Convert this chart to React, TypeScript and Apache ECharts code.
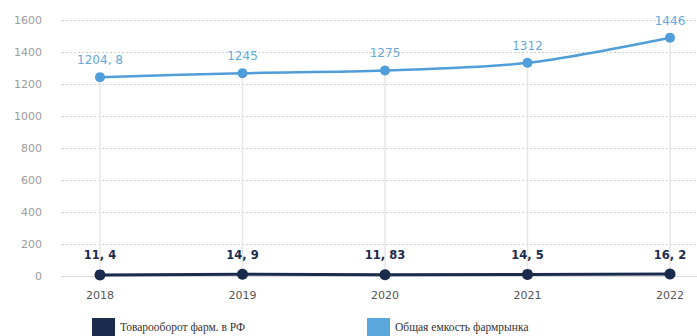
import React, { useEffect, useRef } from "react";
import * as echarts from "echarts";

const years = [2018, 2019, 2020, 2021, 2022];
// Positions of the "Общая емкость" points as drawn in the picture
const marketValues = [1247, 1272, 1289, 1337, 1494];
const marketLabels = ["1204, 8", "1245", "1275", "1312", "1446"];
// Товарооборот values
const turnoverValues = [11.4, 14.9, 11.83, 14.5, 16.2];
const turnoverLabels = ["11, 4", "14, 9", "11, 83", "14, 5", "16, 2"];
const seriesNames = ["Товарооборот фарм. в РФ", "Общая емкость фармрынка"];

const NAVY = "#1b2b4d";
const BLUE = "#4f9dd9";

export default function App() {
  const ref = useRef<HTMLDivElement>(null);
  useEffect(() => {
    if (!ref.current) return;
    const chart = echarts.init(ref.current, null, { renderer: "svg" });
    const font = "DejaVu Sans";
    const legendText = {
      fontFamily: "Liberation Serif",
      fontSize: 11.5,
      lineHeight: 12,
      color: "#333",
    };
    chart.setOption({
      animation: false,
      backgroundColor: "#ffffff",
      grid: { left: 62, right: 0, top: 20.7, bottom: 59.3, containLabel: false },
      legend: [
        {
          data: [{ name: seriesNames[0], icon: "rect", itemStyle: { color: NAVY } }],
          left: 92,
          top: 318,
          padding: 0,
          itemWidth: 23,
          itemHeight: 18,
          textStyle: legendText,
          selectedMode: false,
        },
        {
          data: [{ name: seriesNames[1], icon: "rect", itemStyle: { color: "#5aa7de" } }],
          left: 367,
          top: 318,
          padding: 0,
          itemWidth: 23,
          itemHeight: 18,
          textStyle: legendText,
          selectedMode: false,
        },
      ],
      xAxis: {
        type: "value",
        min: 2017.7333,
        max: 2022.1895,
        axisLine: { show: true, lineStyle: { color: "#d9d9d9", width: 1 } },
        axisTick: { show: false },
        splitLine: { show: false },
        axisLabel: {
          customValues: years,
          color: "#555",
          fontFamily: font,
          fontSize: 11,
          margin: 13,
          formatter: (v: number) => String(Math.round(v)),
        },
      },
      yAxis: {
        type: "value",
        min: 0,
        max: 1600,
        interval: 200,
        axisLine: { show: false },
        axisTick: { show: false },
        axisLabel: {
          color: "#9a9a9a",
          fontFamily: font,
          fontSize: 11,
          margin: 20,
          formatter: (v: number) => String(v),
        },
        splitLine: { show: true, lineStyle: { color: "#d0d0d0", type: [2, 2], width: 1 } },
      },
      series: [
        {
          name: "drop",
          type: "bar",
          data: years.map((y, i) => [y, marketValues[i]]),
          barWidth: 1.5,
          itemStyle: { color: "#e6e6e6" },
          silent: true,
          z: 1,
        },
        {
          name: seriesNames[1],
          type: "line",
          data: years.map((y, i) => [y, marketValues[i]]),
          smooth: 0.3,
          symbol: "circle",
          symbolSize: 10,
          lineStyle: { color: BLUE, width: 2.5 },
          itemStyle: { color: BLUE },
          label: {
            show: true,
            position: "top",
            distance: 6,
            color: "#63a9dd",
            fontFamily: font,
            fontSize: 12,
            formatter: (p: any) => marketLabels[p.dataIndex],
          },
          z: 3,
        },
        {
          name: seriesNames[0],
          type: "line",
          data: years.map((y, i) => [y, turnoverValues[i]]),
          symbol: "circle",
          symbolSize: 11,
          lineStyle: { color: NAVY, width: 3 },
          itemStyle: { color: NAVY },
          label: {
            show: true,
            position: "top",
            distance: 8,
            color: NAVY,
            fontFamily: font,
            fontWeight: "bold",
            fontSize: 11.5,
            formatter: (p: any) => turnoverLabels[p.dataIndex],
          },
          z: 4,
        },
      ],
    });
    return () => chart.dispose();
  }, []);
  return <div ref={ref} style={{ width: 697, height: 336, position: "fixed", left: 0, top: 0 }} />;
}
